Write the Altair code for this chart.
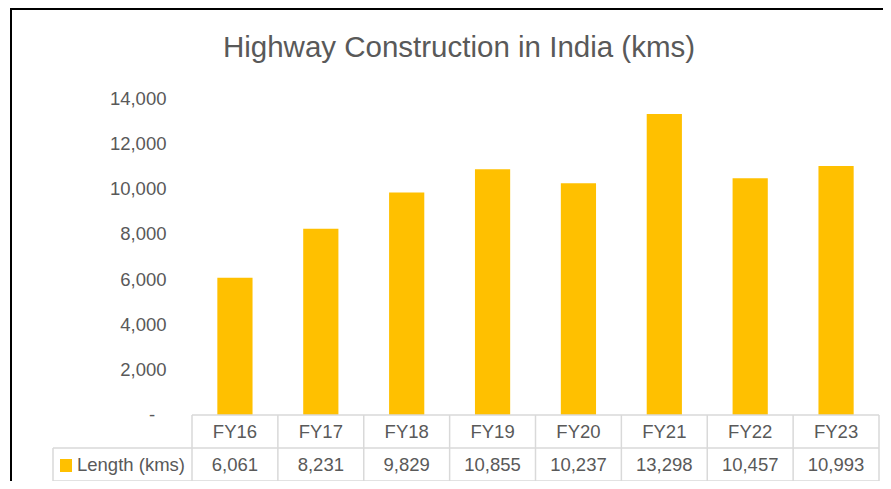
import altair as alt
import pandas as pd

years = ["FY16", "FY17", "FY18", "FY19", "FY20", "FY21", "FY22", "FY23"]
lengths = [6061, 8231, 9829, 10855, 10237, 13298, 10457, 10993]
y_ticks = [2000, 4000, 6000, 8000, 10000, 12000, 14000]
zero_label = "-"
title_text = "Highway Construction in India (kms)"
series_name = "Length (kms)"

df = pd.DataFrame({"year": years, "length": lengths})
df["label"] = [f"{v:,}" for v in lengths]

W, H = 687, 317
STEP = W / len(years)
FONT = "Liberation Sans Narrow, Arial Narrow, Liberation Sans, Arial, sans-serif"
FS = 18.5
GRAY = "#595959"
LINE = "#D9D9D9"
BAR = "#FFC000"

one = pd.DataFrame({"k": [0]})

y_scale = alt.Scale(domain=[0, 14000], nice=False)

x_enc = alt.X(
    "year:N",
    sort=years,
    scale=alt.Scale(paddingInner=0.59, paddingOuter=0.295),
    axis=None,
)

bars = alt.Chart(df).mark_bar(color=BAR).encode(
    x=x_enc,
    y=alt.Y(
        "length:Q",
        scale=y_scale,
        axis=alt.Axis(
            values=y_ticks,
            format=",.0f",
            labelFont=FONT,
            labelFontSize=FS,
            labelColor=GRAY,
            labelPadding=26,
            domain=False,
            ticks=False,
            grid=False,
            title=None,
        ),
    ),
)

zero_text = alt.Chart(pd.DataFrame({"v": [0], "t": [zero_label]})).mark_text(
    font=FONT, fontSize=FS, color=GRAY, baseline="middle", align="center"
).encode(x=alt.value(-40), y=alt.Y("v:Q", scale=y_scale), text="t:N")

# table grid: vertical lines at column left edges
vlines = alt.Chart(df).mark_rule(color=LINE, strokeWidth=1.5, xOffset=-STEP / 2).encode(
    x=alt.X("year:N", sort=years),
    y=alt.value(H),
    y2=alt.value(H + 66),
)
vright = alt.Chart(one).mark_rule(color=LINE, strokeWidth=1.5).encode(
    x=alt.value(W), y=alt.value(H), y2=alt.value(H + 66)
)
vhead = alt.Chart(one).mark_rule(color=LINE, strokeWidth=1.5).encode(
    x=alt.value(-139), y=alt.value(H + 33), y2=alt.value(H + 66)
)
h1 = alt.Chart(one).mark_rule(color=LINE, strokeWidth=1.5).encode(
    x=alt.value(0), x2=alt.value(W), y=alt.value(H)
)
h2 = alt.Chart(one).mark_rule(color=LINE, strokeWidth=1.5).encode(
    x=alt.value(-139), x2=alt.value(W), y=alt.value(H + 33)
)
h3 = alt.Chart(one).mark_rule(color=LINE, strokeWidth=1.5).encode(
    x=alt.value(-139), x2=alt.value(W), y=alt.value(H + 66)
)

head_text = alt.Chart(df).mark_text(
    font=FONT, fontSize=FS, color=GRAY, baseline="middle", align="center"
).encode(x=alt.X("year:N", sort=years), y=alt.value(H + 17), text="year:N")

val_text = alt.Chart(df).mark_text(
    font=FONT, fontSize=FS, color=GRAY, baseline="middle", align="center"
).encode(x=alt.X("year:N", sort=years), y=alt.value(H + 50), text="label:N")

key_box = alt.Chart(one).mark_rect(color=BAR).encode(
    x=alt.value(-132), x2=alt.value(-120), y=alt.value(H + 44), y2=alt.value(H + 57)
)
key_text = alt.Chart(pd.DataFrame({"t": [series_name]})).mark_text(
    font=FONT, fontSize=FS, color=GRAY, baseline="middle", align="left"
).encode(x=alt.value(-115), y=alt.value(H + 50), text="t:N")

title = alt.Chart(pd.DataFrame({"t": [title_text]})).mark_text(
    font=FONT, fontSize=29.5, color=GRAY, baseline="alphabetic", align="center"
).encode(x=alt.value(267), y=alt.value(-41), text="t:N")

frame_top = alt.Chart(one).mark_rule(color="#000000", strokeWidth=2).encode(
    x=alt.value(-182), x2=alt.value(W + 4), y=alt.value(-89)
)
frame_left = alt.Chart(one).mark_rule(color="#000000", strokeWidth=2).encode(
    x=alt.value(-181), y=alt.value(-90), y2=alt.value(H + 66)
)

chart = alt.layer(
    bars, zero_text, vlines, vright, vhead, h1, h2, h3, head_text, val_text,
    key_box, key_text, title, frame_top, frame_left,
).properties(
    width=W,
    height=H,
    autosize=alt.AutoSizeParams(type="none"),
    padding={"left": 184, "top": 90, "right": 4, "bottom": 66},
).configure_view(stroke=None)

chart.save("out.html", embed_options={"renderer": "svg", "actions": False})
